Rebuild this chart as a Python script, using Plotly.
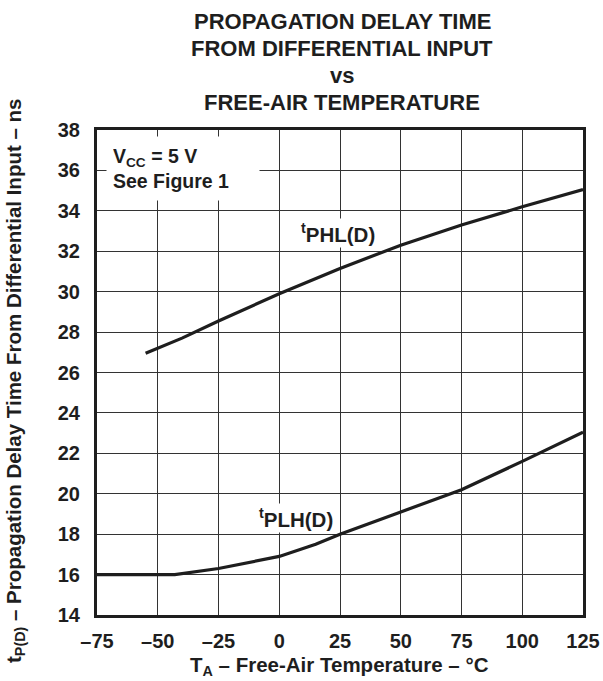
import plotly.graph_objects as go

# Data
temp_phl = [-55, -40, -25, 0, 25, 44, 50, 75, 94, 100, 125]
tphl_ns = [26.95, 27.7, 28.55, 29.9, 31.15, 32.0, 32.3, 33.3, 34.0, 34.2, 35.05]

temp_plh = [-75, -43, -25, 0, 15, 25, 50, 75, 100, 125]
tplh_ns = [16.0, 16.0, 16.3, 16.9, 17.5, 18.0, 19.1, 20.2, 21.6, 23.05]

x_ticks = [-75, -50, -25, 0, 25, 50, 75, 100, 125]
x_ticktext = ["\u201375", "\u201350", "\u201325", "0", "25", "50", "75", "100", "125"]
y_ticks = list(range(14, 39, 2))

title_lines = ["PROPAGATION DELAY TIME", "FROM DIFFERENTIAL INPUT", "vs", "FREE-AIR TEMPERATURE"]

FONT = "Liberation Sans, Arial, sans-serif"
INK = "#1e1e1e"

W, H = 603, 681
ML, MR, MT, MB = 97, 20, 130, 66
PW = W - ML - MR
PH = H - MT - MB


def px_x(p):
    return (p - ML) / PW


def px_y(p):
    return (H - MB - p) / PH


fig = go.Figure()
fig.add_trace(go.Scatter(x=temp_phl, y=tphl_ns, mode="lines",
                         line=dict(color=INK, width=3.2), showlegend=False))
fig.add_trace(go.Scatter(x=temp_plh, y=tplh_ns, mode="lines",
                         line=dict(color=INK, width=3.2), showlegend=False))

annotations = []
title_y = [22, 49, 76, 102]
for txt, yp in zip(title_lines, title_y):
    annotations.append(dict(text="<b>%s</b>" % txt, xref="paper", yref="paper",
                            x=px_x(342), y=px_y(yp), xanchor="center", yanchor="middle",
                            showarrow=False, font=dict(family=FONT, size=22, color=INK)))

# condition box
annotations.append(dict(text="<b>V<sub>CC</sub> = 5 V<br>See Figure 1</b>", xref="paper", yref="paper",
                        x=px_x(106), y=px_y(136), xanchor="left", yanchor="top", align="left",
                        showarrow=False, bgcolor="white", borderpad=6, width=140, height=51,
                        font=dict(family=FONT, size=19.5, color=INK)))

# curve labels
annotations.append(dict(text="<b><sup>t</sup>PHL(D)</b>", x=24.2, y=32.9, xref="x", yref="y",
                        showarrow=False, bgcolor="white", borderpad=1,
                        font=dict(family=FONT, size=20.5, color=INK)))
annotations.append(dict(text="<b><sup>t</sup>PLH(D)</b>", x=6.9, y=18.8, xref="x", yref="y",
                        showarrow=False, bgcolor="white", borderpad=1,
                        font=dict(family=FONT, size=20.5, color=INK)))

# axis titles
annotations.append(dict(text="<b>t<sub>P(D)</sub> \u2013 Propagation Delay Time From Differential Input \u2013 ns</b>",
                        xref="paper", yref="paper", x=px_x(15), y=px_y(381), textangle=-90,
                        xanchor="center", yanchor="middle", showarrow=False,
                        font=dict(family=FONT, size=20.5, color=INK)))
annotations.append(dict(text="<b>T<sub>A</sub> \u2013 Free-Air Temperature \u2013 \u00b0C</b>",
                        xref="paper", yref="paper", x=px_x(339), y=px_y(666),
                        xanchor="center", yanchor="middle", showarrow=False,
                        font=dict(family=FONT, size=20.5, color=INK)))

fig.update_layout(
    width=W, height=H,
    margin=dict(l=ML, r=MR, t=MT, b=MB, pad=0, autoexpand=False),
    paper_bgcolor="white", plot_bgcolor="white",
    annotations=annotations,
    showlegend=False,
    font=dict(family=FONT, color=INK),
)
fig.update_xaxes(range=[-75, 125], tickvals=x_ticks, automargin=False,
                 ticktext=["<b>%s</b>" % t for t in x_ticktext],
                 showgrid=True, gridcolor="#333333", gridwidth=1, zeroline=False,
                 showline=True, linecolor=INK, linewidth=3, mirror=True,
                 ticks="outside", ticklen=6, tickcolor="rgba(0,0,0,0)",
                 tickfont=dict(family=FONT, size=20, color=INK), fixedrange=True)
fig.update_yaxes(range=[14, 38], tickvals=y_ticks, automargin=False,
                 ticktext=["<b>%d</b>" % v for v in y_ticks],
                 showgrid=True, gridcolor="#333333", gridwidth=1, zeroline=False,
                 showline=True, linecolor=INK, linewidth=3, mirror=True,
                 ticks="outside", ticklen=10, tickcolor="rgba(0,0,0,0)",
                 tickfont=dict(family=FONT, size=20, color=INK), fixedrange=True)

fig.write_html("out.html", config={"displayModeBar": False},
               post_script="document.body.style.margin='0';")
